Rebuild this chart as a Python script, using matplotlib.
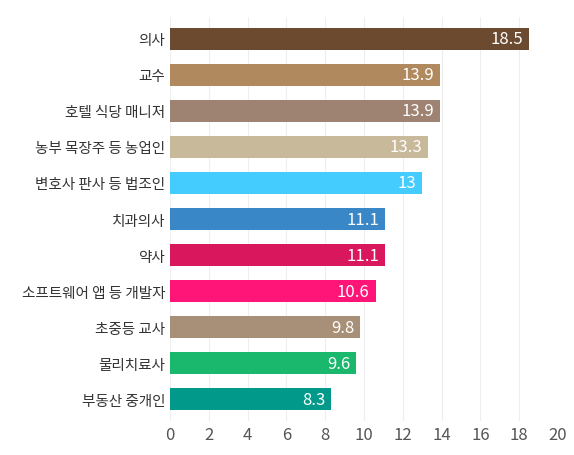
import matplotlib
matplotlib.use("Agg")
import matplotlib.pyplot as plt

categories = ["의사","교수","호텔 식당 매니저","농부 목장주 등 농업인","변호사 판사 등 법조인","치과의사","약사","소프트웨어 앱 등 개발자","초중등 교사","물리치료사","부동산 중개인"]
values = [18.5,13.9,13.9,13.3,13,11.1,11.1,10.6,9.8,9.6,8.3]
labels = ["18.5","13.9","13.9","13.3","13","11.1","11.1","10.6","9.8","9.6","8.3"]
colors = ["#6b4a2f","#b08a5e","#9e8373","#c9b99b","#45ccff","#3a87c7","#d8175c","#ff1478","#a88f77","#1ab86c","#00998a"]

plt.rcParams['font.family'] = ['Noto Sans CJK KR', 'DejaVu Sans']
fig = plt.figure(figsize=(5.74,4.56), dpi=100)
ax = fig.add_axes([0.296, 0.075, 0.676, 0.885])
y = list(range(len(categories)))
ax.barh(y, values, color=colors, height=0.6, zorder=2)
for yi, v, l in zip(y, values, labels):
    ax.text(v-0.3, yi, l, ha='right', va='center', color='white', fontsize=12, zorder=3)
ax.set_yticks(y)
ax.set_yticklabels(categories, fontsize=10.5, color='#333333')
ax.invert_yaxis()
ax.set_ylim(10.6, -0.6)
ax.set_xlim(0, 20)
ax.set_xticks(range(0,21,2))
ax.tick_params(axis='x', labelsize=12, colors='#555555', length=0)
ax.tick_params(axis='y', length=0)
ax.grid(axis='x', color='#eeeeee', zorder=0)
for s in ax.spines.values():
    s.set_visible(False)
fig.savefig("out.png")
